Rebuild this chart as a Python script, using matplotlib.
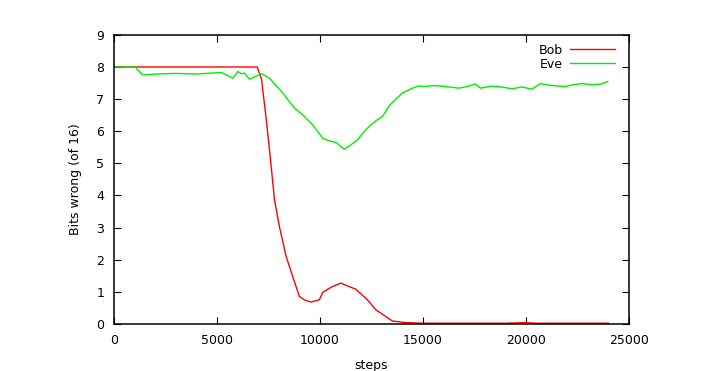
import matplotlib
matplotlib.use("Agg")
import matplotlib.pyplot as plt

# ----------------------------
# Data
# ----------------------------
bob_steps = [0, 1000, 3000, 5000, 6950, 7160, 7400, 7550, 7790, 8030, 8355, 8675,
             9000, 9240, 9560, 9965, 10130, 10530, 11010, 11420, 11740, 12300,
             12710, 13030, 13510, 14160, 15000, 17000, 19000, 20000, 20500,
             22000, 24000]
bob_vals = [8.0, 8.0, 8.0, 8.0, 8.0, 7.62, 6.3, 5.4, 3.86, 3.02, 2.10, 1.47,
            0.85, 0.75, 0.68, 0.75, 0.98, 1.14, 1.27, 1.16, 1.08, 0.75,
            0.44, 0.30, 0.09, 0.04, 0.02, 0.02, 0.02, 0.04, 0.02,
            0.02, 0.02]

eve_steps = [0, 1020, 1390, 2000, 3000, 4000, 5210, 5770, 6010, 6170, 6330,
             6580, 7160, 7550, 8190, 8760, 9160, 9640, 10130, 10450, 10770,
             11170, 11420, 11820, 12140, 12470, 12790, 13030, 13350, 13680,
             14000, 14480, 14800, 15050, 15530, 16000, 16740, 17200, 17550,
             17790, 18300, 18800, 19320, 19800, 20290, 20690, 21300, 21900,
             22300, 22710, 23200, 23680, 23970]
eve_vals = [8.0, 8.0, 7.75, 7.78, 7.80, 7.78, 7.83, 7.65, 7.86, 7.79, 7.81,
            7.62, 7.79, 7.65, 7.19, 6.72, 6.51, 6.20, 5.78, 5.70, 5.65,
            5.44, 5.54, 5.73, 5.99, 6.20, 6.36, 6.46, 6.79, 7.00,
            7.19, 7.34, 7.41, 7.39, 7.42, 7.40, 7.34, 7.40, 7.47,
            7.34, 7.40, 7.38, 7.32, 7.38, 7.31, 7.48, 7.42, 7.39,
            7.45, 7.48, 7.45, 7.47, 7.55]

# ----------------------------
# Plot
# ----------------------------
plt.rcParams["font.family"] = "DejaVu Sans"
fig = plt.figure(figsize=(7.04, 3.71), dpi=100)
ax = fig.add_axes([0.162, 0.127, 0.7315, 0.779])

ax.plot(bob_steps, bob_vals, color="#ff0000", linewidth=1.0, label="Bob")
ax.plot(eve_steps, eve_vals, color="#00ee00", linewidth=1.0, label="Eve")

ax.set_xlim(0, 25000)
ax.set_ylim(0, 9)
ax.set_xticks(range(0, 25001, 5000))
ax.set_yticks(range(0, 10))
ax.tick_params(direction="in", top=True, right=True, labelsize=9, length=5,
               width=0.8)
ax.tick_params(axis="x", pad=7)
ax.tick_params(axis="y", pad=7)
for s in ax.spines.values():
    s.set_linewidth(1.1)
ax.set_xlabel("steps", fontsize=9, labelpad=9)
ax.set_ylabel("Bits wrong (of 16)", fontsize=9, labelpad=10)

ax.legend(loc="upper right", bbox_to_anchor=(0.99, 1.0), frameon=False,
          markerfirst=False, fontsize=9, handlelength=3.6, handletextpad=0.6,
          labelspacing=0.1, borderaxespad=0.3)

fig.savefig("out.png", dpi=100)
